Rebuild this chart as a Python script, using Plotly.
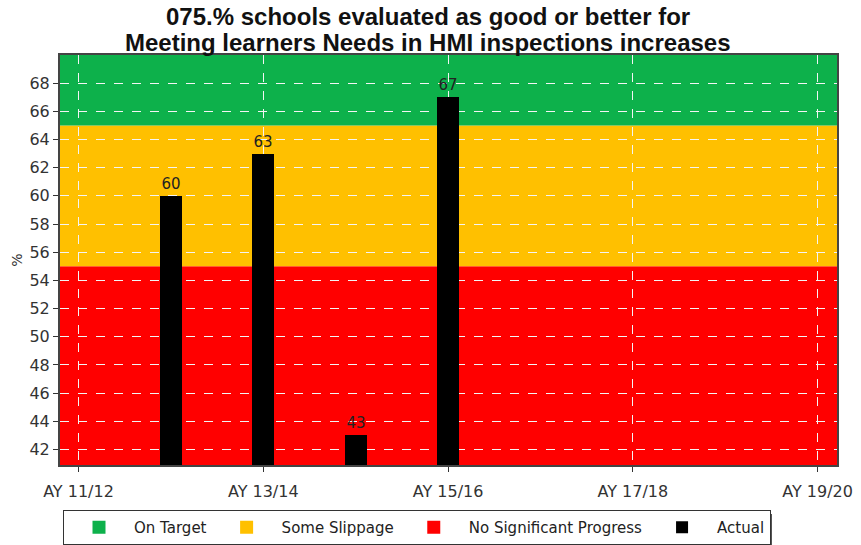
import plotly.graph_objects as go

# Academic years on the axis (index 0 = AY 11/12)
year_labels = ["AY 11/12", "AY 12/13", "AY 13/14", "AY 14/15", "AY 15/16",
               "AY 16/17", "AY 17/18", "AY 18/19", "AY 19/20"]
tick_years = ["AY 11/12", "AY 13/14", "AY 15/16", "AY 17/18", "AY 19/20"]

# Actual results (%)
actual_years = ["AY 12/13", "AY 13/14", "AY 14/15", "AY 15/16"]
actual_values = [60, 63, 43, 67]

# RAG thresholds (%)
y_min, y_max = 40.9, 70
red_top = 55
amber_top = 65

title_lines = ["075.% schools evaluated as good or better for",
               "Meeting learners Needs in HMI inspections increases"]

band_colors = {"On Target": "#0db14b", "Some Slippage": "#ffc000",
               "No Significant Progress": "#ff0000", "Actual": "#000000"}

idx = {lab: i for i, lab in enumerate(year_labels)}
x_actual = [idx[y] for y in actual_years]
tick_vals = [idx[y] for y in tick_years]

W, H = 861, 545
M_L, M_R, M_T, M_B = 60, 24, 55, 80
plot_w, plot_h = W - M_L - M_R, H - M_T - M_B

fig = go.Figure()

# Background bands
bands = [(y_min, red_top, band_colors["No Significant Progress"]),
         (red_top, amber_top, band_colors["Some Slippage"]),
         (amber_top, y_max, band_colors["On Target"])]
for y0, y1, c in bands:
    fig.add_shape(type="rect", xref="paper", yref="y", x0=0, x1=1, y0=y0, y1=y1,
                  fillcolor=c, line_width=0, layer="below")

# Legend entries for the bands
for name in ["On Target", "Some Slippage", "No Significant Progress"]:
    fig.add_trace(go.Scatter(x=[None], y=[None], mode="markers", name=name,
                             marker=dict(symbol="square", size=13,
                                         color=band_colors[name])))

# Bars rise from the axis floor: height = value - floor
fig.add_trace(go.Bar(x=x_actual, y=[v - y_min for v in actual_values], base=y_min,
                     name="Actual", marker=dict(color="#000000", line_width=0),
                     width=0.24,
                     text=[str(v) for v in actual_values], textposition="outside",
                     textfont=dict(family="DejaVu Sans", size=15, color="#222222"),
                     cliponaxis=False))

# Pixel -> paper coordinate helpers
def px_x(px):
    return (px - M_L) / plot_w

def px_y(py):
    return (H - M_B - py) / plot_h

# Legend drop shadow
legend_top = 510
fig.add_shape(type="rect", xref="paper", yref="paper",
              x0=px_x(67), x1=px_x(772), y0=px_y(548), y1=px_y(legend_top + 4),
              fillcolor="#555555", line_width=0, layer="below")

# Two-line bold title
for text, py in zip(title_lines, [17, 43]):
    fig.add_annotation(text=text, xref="paper", yref="paper",
                       x=px_x(428), xanchor="center",
                       y=px_y(py), yanchor="middle", showarrow=False,
                       font=dict(family="Liberation Sans", size=24, color="#111111",
                                 weight="bold"))

fig.update_layout(
    width=W, height=H,
    margin=dict(l=M_L, r=M_R, t=M_T, b=M_B, autoexpand=False),
    paper_bgcolor="white", plot_bgcolor="white",
    font=dict(family="DejaVu Sans", size=16, color="#333333"),
    showlegend=True,
    legend=dict(orientation="h", xref="container", yref="container",
                x=63 / W, xanchor="left", y=1 - legend_top / H, yanchor="top",
                bgcolor="white", bordercolor="#333333", borderwidth=1,
                font=dict(family="DejaVu Sans", size=15, color="#222222"),
                itemwidth=60, traceorder="normal"),
    bargap=0,
)

fig.update_xaxes(range=[-0.2, 8.21], tickmode="array", tickvals=tick_vals,
                 ticktext=tick_years, ticks="outside", ticklen=5,
                 tickcolor="#333333", showline=True, linecolor="#444444",
                 linewidth=2, mirror=True, showgrid=True, gridcolor="#f4f4f4",
                 griddash="dash", gridwidth=1, zeroline=False,
                 ticklabelstandoff=6, automargin=False)
fig.update_yaxes(range=[y_min, y_max], tickmode="array",
                 tickvals=list(range(42, 70, 2)), ticks="outside", ticklen=5,
                 tickcolor="#333333", showline=True, linecolor="#444444",
                 linewidth=2, mirror=True, showgrid=True, gridcolor="#f4f4f4",
                 griddash="dash", gridwidth=1, zeroline=False, automargin=False,
                 title=dict(text="%", standoff=4, font=dict(size=14)))

fig.write_html("out.html")
